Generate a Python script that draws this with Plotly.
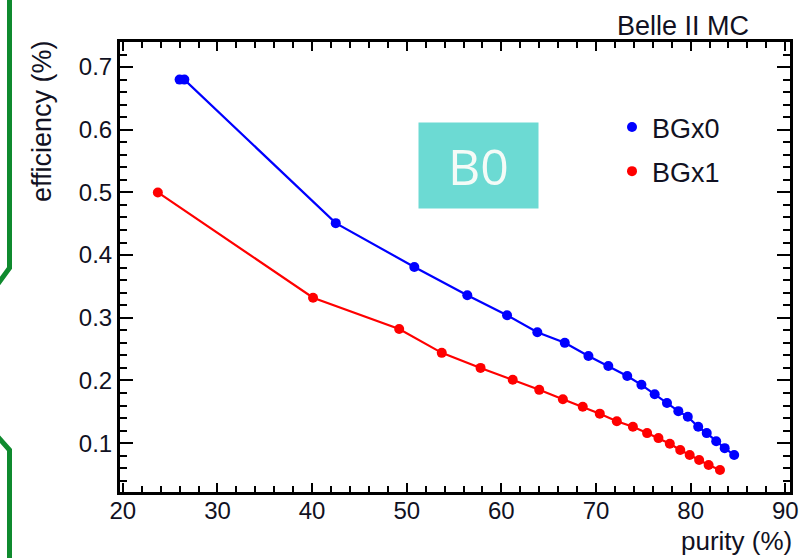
import plotly.graph_objects as go

# Efficiency vs purity scan for B0 reconstruction, two beam-background settings
purity_bgx0 = [26.0, 26.5, 42.5, 50.8, 56.4, 60.6, 63.8, 66.7, 69.2, 71.3, 73.3,
               74.8, 76.2, 77.5, 78.7, 79.7, 80.8, 81.7, 82.7, 83.6, 84.6]
eff_bgx0 = [0.680, 0.680, 0.451, 0.381, 0.336, 0.304, 0.277, 0.260, 0.239, 0.223, 0.207,
            0.193, 0.178, 0.164, 0.151, 0.142, 0.126, 0.116, 0.103, 0.092, 0.081]

purity_bgx1 = [23.7, 40.1, 49.2, 53.7, 57.8, 61.2, 64.0, 66.5, 68.6, 70.4, 72.2,
               73.9, 75.4, 76.6, 77.8, 78.9, 79.9, 80.9, 81.9, 83.1]
eff_bgx1 = [0.500, 0.332, 0.282, 0.244, 0.220, 0.201, 0.185, 0.170, 0.158, 0.147, 0.135,
            0.126, 0.116, 0.108, 0.099, 0.089, 0.081, 0.073, 0.065, 0.057]

series_names = ["BGx0", "BGx1"]
series_colors = ["#0000ff", "#ff0000"]

x_ticks = [20, 30, 40, 50, 60, 70, 80, 90]
y_ticks = [0.1, 0.2, 0.3, 0.4, 0.5, 0.6, 0.7]

FONT = "Liberation Sans, Arial, Helvetica, sans-serif"
INK = "#111122"

# plot-area geometry in pixels (used to place paper-referenced decorations)
L, R, T, B = 120, 790, 42, 492
W, H = R - L, B - T


def px(x):
    return (x - L) / W


def py(y):
    return (B - y) / H


fig = go.Figure()

for xs, ys, name, color in [(purity_bgx0, eff_bgx0, series_names[0], series_colors[0]),
                            (purity_bgx1, eff_bgx1, series_names[1], series_colors[1])]:
    fig.add_trace(go.Scatter(
        x=xs, y=ys, mode="lines+markers", name=name, showlegend=False,
        line=dict(color=color, width=2.2),
        marker=dict(color=color, size=10, symbol="circle"),
    ))
    # marker-only legend entry
    fig.add_trace(go.Scatter(
        x=[None], y=[None], mode="markers", name=name, legendgroup=name,
        marker=dict(color=color, size=10, symbol="circle"),
    ))

axis_common = dict(
    showgrid=False, zeroline=False, showline=True, linecolor="black", linewidth=3,
    mirror="allticks", ticks="inside", tickwidth=2, tickcolor="black",
    tickfont=dict(family=FONT, size=24, color=INK),
)

fig.update_xaxes(
    range=[19.7, 90.5], tickvals=x_ticks, ticktext=[str(v) for v in x_ticks],
    ticklen=9, ticklabelstandoff=-5,
    minor=dict(ticks="inside", dtick=2, tick0=20, ticklen=6, tickwidth=2, tickcolor="black"),
    **axis_common,
)
fig.update_yaxes(
    range=[0.022, 0.74], tickvals=y_ticks, ticktext=[f"{v:.1f}" for v in y_ticks],
    ticklen=13,
    minor=dict(ticks="inside", dtick=0.02, tick0=0, ticklen=7, tickwidth=2, tickcolor="black"),
    **axis_common,
)

fig.update_layout(
    width=812, height=558,
    margin=dict(l=L, r=812 - R, t=T, b=558 - B),
    paper_bgcolor="white", plot_bgcolor="white",
    font=dict(family=FONT, color=INK),
    legend=dict(
        x=px(612), y=py(103), xanchor="left", yanchor="top",
        bgcolor="rgba(0,0,0,0)", font=dict(family=FONT, size=27, color=INK),
        tracegroupgap=6, itemwidth=30,
    ),
    annotations=[
        dict(text="Belle II MC", x=px(751), y=py(26), xref="paper", yref="paper",
             xanchor="right", yanchor="middle", showarrow=False,
             font=dict(family=FONT, size=27, color=INK)),
        dict(text="purity (%)", x=px(794), y=py(541), xref="paper", yref="paper",
             xanchor="right", yanchor="middle", showarrow=False,
             font=dict(family=FONT, size=26, color=INK)),
        dict(text="efficiency (%)", x=px(42), y=py(38), xref="paper", yref="paper",
             xanchor="center", yanchor="top", textangle=-90, showarrow=False,
             font=dict(family=FONT, size=27, color=INK)),
        dict(text="B0", x=px(478.5), y=py(165.5), xref="paper", yref="paper",
             xanchor="center", yanchor="middle", showarrow=False,
             bgcolor="#6cdad3", width=119, height=85, borderpad=0,
             font=dict(family="Open Sans, sans-serif", size=50, color="#f4fbf7")),
    ],
)

# green panel edging on the left
green = "#0f8a2e"
fig.add_shape(type="path", xref="paper", yref="paper",
              path=f"M {px(9.5)} {py(-5)} L {px(9.5)} {py(268)} L {px(-3)} {py(285)}",
              line=dict(color=green, width=5), layer="above")
fig.add_shape(type="path", xref="paper", yref="paper",
              path=f"M {px(-3)} {py(436)} L {px(9.5)} {py(450)} L {px(9.5)} {py(565)}",
              line=dict(color=green, width=5), layer="above")

fig.write_html("out.html")
